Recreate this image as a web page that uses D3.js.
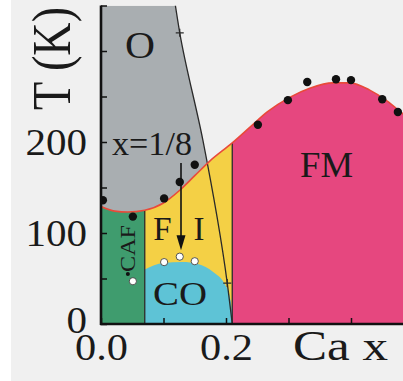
<!DOCTYPE html>
<html>
<head>
<meta charset="utf-8">
<script src="https://cdn.jsdelivr.net/npm/d3@7"></script>
<style>
  html, body { margin: 0; padding: 0; background: #f0f0f0; }
  svg { display: block; }
  text { font-family: "Liberation Serif", "Times New Roman", serif; fill: #1a1a1a; }
</style>
</head>
<body>
<svg id="chart" width="403" height="381"></svg>
<script>
// ---- Data (x = Ca fraction, T in K) ----
// Phase boundary (Tc / T_O) curve
const curveX = [0, 0.022, 0.043, 0.07, 0.10, 0.126, 0.15, 0.174, 0.21, 0.238, 0.266, 0.302, 0.334, 0.371, 0.398, 0.43, 0.458, 0.483, 0.5];
const curveT = [129, 124, 123, 125, 133, 147, 163, 179, 199, 216, 233, 249, 259, 265, 265, 257, 245, 231, 222];
// O / rhombohedral boundary (diagonal line)
const diagX = [0.119, 0.126, 0.163, 0.202, 0.21];
const diagT = [350, 320, 202, 45, 0];
// crosses on the diagonal
const crossX = [0.126, 0.202];
const crossT = [320, 45];
// CO dome top boundary
const coDomeX = [0.07, 0.10, 0.13, 0.155, 0.18, 0.197, 0.206, 0.21, 0.21];
const coDomeT = [60, 67, 68, 66, 57, 45, 30, 12, 0];
// filled data points
const dotX = [0.003, 0.051, 0.101, 0.126, 0.150, 0.251, 0.299, 0.330, 0.376, 0.400, 0.450, 0.475];
const dotT = [136, 118, 138, 156, 175, 219, 246, 266, 269, 268, 247, 233];
// open data points (CO transition)
const openX = [0.051, 0.101, 0.126, 0.150];
const openT = [47, 68, 74, 69];
// phase boundaries (vertical)
const bCAF = 0.07, bFM = 0.21;
// axis ticks
const xTicks = [0, 0.1, 0.2, 0.3, 0.4];
const xTickLabels = {0: "0.0", 0.2: "0.2"};
const yTicks = [0, 50, 100, 150, 200, 250, 300, 350];
const yTickLabels = {0: "0", 100: "100", 200: "200"};

const colors = {
  bg: "#f0f0f0", gray: "#a9aeb1", green: "#3f9c6e", yellow: "#f4d045",
  cyan: "#5ec3d6", pink: "#e6477f", red: "#e94a3a", line: "#2a2a2a"
};

const svg = d3.select("#chart");
const W = 403, H = 381;
const x = d3.scaleLinear().domain([0, 0.5]).range([101, 413.5]);
const y = d3.scaleLinear().domain([0, 350]).range([324, 5.5]);

svg.append("rect").attr("width", W).attr("height", H).attr("fill", colors.bg);
svg.append("rect").attr("width", 11).attr("height", H).attr("fill", "#ffffff");

const defs = svg.append("defs");
const curvePts = curveX.map((d, i) => [d, curveT[i]]);
const diagPts = diagX.map((d, i) => [d, diagT[i]]);
const domePts = coDomeX.map((d, i) => [d, coDomeT[i]]);

defs.append("clipPath").attr("id", "plot").append("rect")
  .attr("x", x(0)).attr("y", y(350)).attr("width", W - x(0)).attr("height", y(0) - y(350));

const areaBelow = d3.area().x(d => x(d[0])).y0(y(0)).y1(d => y(d[1])).curve(d3.curveMonotoneX);
const areaAbove = d3.area().x(d => x(d[0])).y0(y(350)).y1(d => y(d[1])).curve(d3.curveMonotoneX);
defs.append("clipPath").attr("id", "below").append("path").attr("d", areaBelow(curvePts));
defs.append("clipPath").attr("id", "above").append("path").attr("d", areaAbove(curvePts));
const diagArea = d3.area().y(d => y(d[1])).x0(x(0)).x1(d => x(d[0])).curve(d3.curveMonotoneY);
defs.append("clipPath").attr("id", "leftdiag").append("path").attr("d", diagArea(diagPts));

const plot = svg.append("g").attr("clip-path", "url(#plot)");

// Gray O region
plot.append("g").attr("clip-path", "url(#above)")
  .append("rect").attr("clip-path", "url(#leftdiag)")
  .attr("x", x(0)).attr("y", y(350)).attr("width", x(0.5) - x(0)).attr("height", y(0) - y(350))
  .attr("fill", colors.gray);

// Regions below the curve
const below = plot.append("g").attr("clip-path", "url(#below)");
below.append("rect").attr("x", x(0)).attr("y", y(350)).attr("width", x(bCAF) - x(0)).attr("height", y(0) - y(350)).attr("fill", colors.green);
below.append("rect").attr("x", x(bCAF)).attr("y", y(350)).attr("width", x(bFM) - x(bCAF)).attr("height", y(0) - y(350)).attr("fill", colors.yellow);
below.append("rect").attr("x", x(bFM)).attr("y", y(350)).attr("width", x(0.5) - x(bFM)).attr("height", y(0) - y(350)).attr("fill", colors.pink);
const domeArea = d3.area().x(d => x(d[0])).y0(y(0)).y1(d => y(d[1])).curve(d3.curveMonotoneX);
below.append("path").attr("d", domeArea(domePts)).attr("fill", colors.cyan);
// vertical boundaries
[bCAF, bFM].forEach(b => {
  below.append("line").attr("x1", x(b)).attr("x2", x(b)).attr("y1", y(0)).attr("y2", y(350))
    .attr("stroke", colors.line).attr("stroke-width", 1.3);
});

// Diagonal line
const diagLine = d3.line().x(d => x(d[0])).y(d => y(d[1])).curve(d3.curveMonotoneY);
plot.append("path").attr("d", diagLine(diagPts)).attr("fill", "none")
  .attr("stroke", colors.line).attr("stroke-width", 1.3);
crossX.forEach((cx, i) => {
  const px = x(cx), py = y(crossT[i]);
  plot.append("path").attr("d", `M${px - 4},${py}H${px + 4}M${px},${py - 4}V${py + 4}`)
    .attr("stroke", colors.line).attr("stroke-width", 1.2);
});

// Red curve
const curveLine = d3.line().x(d => x(d[0])).y(d => y(d[1])).curve(d3.curveMonotoneX);
plot.append("path").attr("d", curveLine(curvePts)).attr("fill", "none")
  .attr("stroke", colors.red).attr("stroke-width", 1.6);

// Arrow x=1/8
const arrowX = 0.128, arrowTop = 177, arrowBot = 81;
plot.append("line").attr("x1", x(arrowX)).attr("x2", x(arrowX)).attr("y1", y(arrowTop)).attr("y2", y(arrowBot) - 12)
  .attr("stroke", "#111").attr("stroke-width", 1.6);
plot.append("path")
  .attr("d", `M${x(arrowX) - 4.5},${y(arrowBot) - 15}L${x(arrowX) + 4.5},${y(arrowBot) - 15}L${x(arrowX)},${y(arrowBot)}Z`)
  .attr("fill", "#111");

// Dots
plot.selectAll(".dot").data(dotX.map((d, i) => [d, dotT[i]])).join("circle")
  .attr("cx", d => x(d[0])).attr("cy", d => y(d[1])).attr("r", 4.2).attr("fill", "#111");
plot.selectAll(".open").data(openX.map((d, i) => [d, openT[i]])).join("circle")
  .attr("cx", d => x(d[0])).attr("cy", d => y(d[1])).attr("r", 3.6)
  .attr("fill", "#ffffff").attr("stroke", "#444").attr("stroke-width", 0.9);
// small dot near CAF
plot.append("circle").attr("cx", x(0.043)).attr("cy", y(55)).attr("r", 2).attr("fill", "#111");

// Region labels
function label(t, xv, tv, size, len, anchor) {
  const el = svg.append("text").attr("x", x(xv)).attr("y", y(tv)).attr("font-size", size)
    .attr("text-anchor", anchor || "middle").text(t);
  if (len) el.attr("textLength", len).attr("lengthAdjust", "spacingAndGlyphs");
  return el;
}
label("O", 0.0384, 292, 38, 30, "start");
label("x=1/8", 0.0176, 185.7, 34, 80, "start");
label("F", 0.0984, 92.3, 33);
label("I", 0.1568, 92.3, 33);
label("CO", 0.1264, 20.9, 33, 54);
label("FM", 0.3608, 161.5, 36, 53);
svg.append("text").attr("transform", `translate(${x(0.0544)},${y(83)}) rotate(-90)`)
  .attr("font-size", 22).attr("text-anchor", "middle")
  .attr("textLength", 47).attr("lengthAdjust", "spacingAndGlyphs").text("CAF");

// Axes
const xAxis = d3.axisBottom(x).tickValues(xTicks).tickSize(-6).tickSizeOuter(0)
  .tickFormat(d => xTickLabels[d] || "");
const gx = svg.append("g").attr("transform", `translate(0,${y(0)})`).call(xAxis);
gx.select(".domain").attr("stroke", "#111").attr("stroke-width", 2.6).attr("d", `M${x(0) - 1},0H${W}`);
gx.selectAll(".tick line").attr("stroke", "#111").attr("stroke-width", 1.5);
gx.selectAll(".tick text").attr("y", 36).attr("dy", 0).attr("font-size", 37)
  .attr("font-family", "Liberation Serif").attr("fill", "#1a1a1a")
  .attr("textLength", d => xTickLabels[d] ? 53 : null).attr("lengthAdjust", "spacingAndGlyphs");

const yAxis = d3.axisLeft(y).tickValues(yTicks).tickSize(-6).tickSizeOuter(0)
  .tickFormat(d => yTickLabels[d] || "");
const gy = svg.append("g").attr("transform", `translate(${x(0)},0)`).call(yAxis);
gy.select(".domain").attr("stroke", "#111").attr("stroke-width", 2.6).attr("d", `M0,${y(350)}V${y(0) + 1}`);
gy.selectAll(".tick line").attr("stroke", "#111").attr("stroke-width", 1.5);
gy.selectAll(".tick text").attr("x", -14).attr("font-size", 37)
  .attr("dy", d => d === 0 ? "0.22em" : "0.34em")
  .attr("font-family", "Liberation Serif").attr("fill", "#1a1a1a")
  .attr("textLength", d => yTickLabels[d] ? yTickLabels[d].length * 20.5 : null)
  .attr("lengthAdjust", "spacingAndGlyphs");

// Axis titles
svg.append("text").attr("x", 293).attr("y", 360).attr("font-size", 42)
  .attr("textLength", 95).attr("lengthAdjust", "spacingAndGlyphs").text("Ca x");
svg.append("text").attr("transform", "translate(70,58.5) scale(1.2,1) rotate(-90)")
  .attr("font-size", 46).attr("text-anchor", "middle")
  .attr("textLength", 103).attr("lengthAdjust", "spacingAndGlyphs").text("T (K)");
</script>
</body>
</html>
